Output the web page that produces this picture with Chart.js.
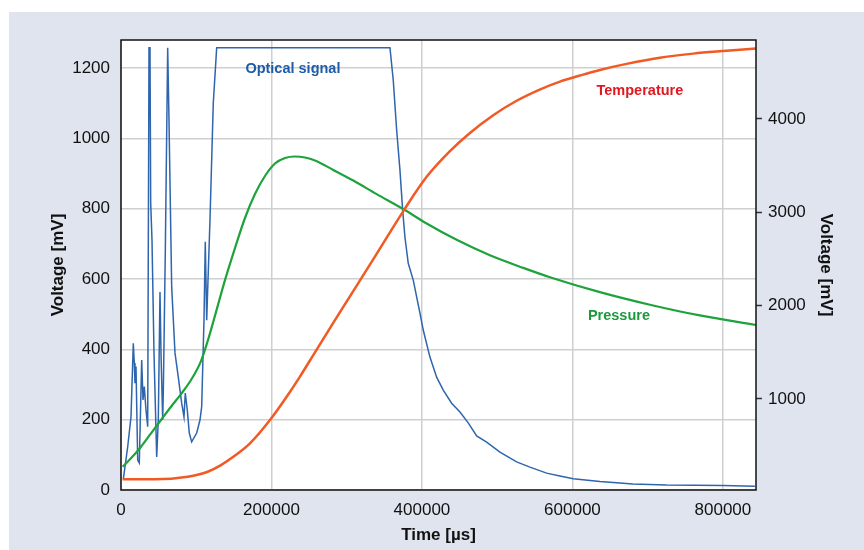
<!DOCTYPE html>
<html>
<head>
<meta charset="utf-8">
<script src="https://cdn.jsdelivr.net/npm/chart.js@4.4.1/dist/chart.umd.min.js"></script>
<style>
  html, body { margin: 0; padding: 0; background: #fff; }
  canvas { display: block; }
</style>
</head>
<body>
<canvas id="signalChart" width="864" height="550"></canvas>
<script>
// time axis in µs, voltages in mV
const xTicks = [0, 200000, 400000, 600000, 800000];
const leftTicks = [0, 200, 400, 600, 800, 1000, 1200];
const rightTicks = [1000, 2000, 3000, 4000];

const opticalTime = [
  3056, 8904, 13289, 16345, 17674, 18605, 19934, 22192, 24319, 27508, 29236, 30963, 33222, 35481,
  37209, 38538, 39468, 41196, 43854, 47442, 49568, 51827, 53156, 55415, 56213, 58871, 62060, 63787,
  67375, 71760, 76146, 80664, 83720, 85448, 88106, 90764, 93953, 100598, 104983, 107242, 110299,
  112026, 113887, 118272, 122658, 127176, 357474, 361860, 366378, 370763, 374351, 377408, 381793,
  388438, 397341, 401727, 410628, 419532, 428303, 439466, 450497, 461527, 472690, 485979, 503649,
  525844, 543521, 565712, 583393, 601067, 636543, 680397, 725182, 800000, 842523
];
const opticalValues = [
  30, 123, 208, 417, 361, 304, 351, 85, 77, 370, 256, 294, 227, 180,
  1258, 1258, 816, 711, 390, 94, 199, 563, 390, 199, 276, 674, 1258, 1052,
  577, 390, 321, 247, 208, 276, 227, 162, 137, 162, 199, 237, 483,
  706, 483, 768, 1100, 1258, 1258, 1166, 1024, 910, 796, 719, 645,
  597, 503, 455, 378, 321, 284, 247, 222, 191, 154, 136, 108,
  80, 65, 48, 40, 32, 24, 17, 14, 13, 11
];

const pressureTime = [
  2259, 13289, 26578, 39867, 53156, 66445, 79734, 93023, 106312, 115614, 126245, 138205, 151494,
  164783, 178072, 191361, 204650, 217939, 231228, 244517, 257806, 282125, 308703, 339798, 375147,
  406242, 446109, 490364, 534617, 570096, 636543, 702988, 769433, 843850
];
const pressureValues = [
  274, 364, 489, 632, 775, 917, 1053, 1203, 1406, 1631, 1931, 2274, 2617,
  2939, 3196, 3389, 3523, 3582, 3598, 3587, 3555, 3454, 3340, 3195, 3035,
  2880, 2705, 2540, 2405, 2305, 2145, 2010, 1895, 1793
];

const tempTime = [
  2259, 44252, 88636, 115214, 132890, 149238, 171428, 198006, 220198, 237873, 257807, 282125,
  304307, 339798, 377408, 406242, 437198, 463776, 494750, 525844, 556511, 583393, 609971, 636543,
  672023, 716283, 760535, 804913, 843852
];
const tempValues = [
  139, 139, 167, 221, 292, 381, 525, 775, 1024, 1240, 1500, 1815,
  2100, 2555, 3040, 3380, 3655, 3850, 4040, 4195, 4315, 4400, 4465, 4525,
  4590, 4655, 4700, 4730, 4755
];

const seriesLabels = [
  { text: 'Optical signal', x: 228500, y: 1197, axis: 'y', color: '#1f5ca8' },
  { text: 'Temperature', x: 689700, y: 4300, axis: 'y1', color: '#e3161f' },
  { text: 'Pressure', x: 661800, y: 1889, axis: 'y1', color: '#1a9a3a' }
];

const toPoints = (xs, ys) => xs.map((x, i) => ({ x: x, y: ys[i] }));
const fontFamily = '"Liberation Sans", Arial, sans-serif';

const backdrop = {
  id: 'backdrop',
  beforeDraw(chart) {
    const { ctx, chartArea: a } = chart;
    ctx.save();
    ctx.fillStyle = '#fff';
    ctx.fillRect(0, 0, chart.width, chart.height);
    ctx.fillStyle = '#e0e4ef';
    ctx.fillRect(9, 12, chart.width - 9, chart.height - 12);
    ctx.fillStyle = '#fff';
    ctx.fillRect(a.left, a.top, a.right - a.left, a.bottom - a.top);
    ctx.restore();
  },
  afterDraw(chart) {
    const { ctx, chartArea: a } = chart;
    ctx.save();
    ctx.strokeStyle = '#111';
    ctx.lineWidth = 1.5;
    ctx.strokeRect(a.left, a.top, a.right - a.left, a.bottom - a.top);
    // series names
    ctx.font = 'bold 14.5px ' + fontFamily;
    ctx.textAlign = 'center';
    ctx.textBaseline = 'middle';
    seriesLabels.forEach(l => {
      ctx.fillStyle = l.color;
      ctx.fillText(l.text, chart.scales.x.getPixelForValue(l.x), chart.scales[l.axis].getPixelForValue(l.y));
    });
    ctx.restore();
  }
};

const gridColor = '#cfcfcf';
const tickFont = { family: fontFamily, size: 17 };
const titleFont = { family: fontFamily, size: 17, weight: 'bold' };

new Chart(document.getElementById('signalChart'), {
  type: 'line',
  data: {
    datasets: [
      {
        label: 'Optical signal',
        data: toPoints(opticalTime, opticalValues),
        borderColor: '#2f65ad',
        borderWidth: 1.5,
        pointRadius: 0,
        yAxisID: 'y',
        order: 3
      },
      {
        label: 'Pressure',
        data: toPoints(pressureTime, pressureValues),
        borderColor: '#1ea33c',
        borderWidth: 2.2,
        pointRadius: 0,
        cubicInterpolationMode: 'monotone',
        yAxisID: 'y1',
        order: 2
      },
      {
        label: 'Temperature',
        data: toPoints(tempTime, tempValues),
        borderColor: '#f25a24',
        borderWidth: 2.5,
        pointRadius: 0,
        cubicInterpolationMode: 'monotone',
        yAxisID: 'y1',
        order: 1
      }
    ]
  },
  options: {
    responsive: false,
    animation: false,
    devicePixelRatio: 1,
    layout: { padding: { top: 40, left: 0, right: 0, bottom: 0 } },
    plugins: { legend: { display: false }, tooltip: { enabled: false } },
    scales: {
      x: {
        type: 'linear',
        min: 0,
        max: 844000,
        afterBuildTicks: s => { s.ticks = xTicks.map(v => ({ value: v })); },
        afterFit: s => { s.height = 60; },
        grid: { color: gridColor, lineWidth: 1.5, drawTicks: false },
        border: { display: false },
        ticks: { color: '#111', font: tickFont, padding: 10, maxRotation: 0, callback: v => String(v) },
        title: { display: true, text: 'Time [µs]', color: '#111', font: titleFont, padding: { bottom: 4 } }
      },
      y: {
        position: 'left',
        min: 0,
        max: 1280,
        afterBuildTicks: s => { s.ticks = leftTicks.map(v => ({ value: v })); },
        afterFit: s => { s.width = 121; },
        grid: { color: gridColor, lineWidth: 1.5, drawTicks: false },
        border: { display: false },
        ticks: { color: '#111', font: tickFont, padding: 11, callback: v => String(v) },
        title: { display: true, text: 'Voltage [mV]', color: '#111', font: titleFont, padding: { top: 48 } }
      },
      y1: {
        position: 'right',
        min: 25,
        max: 4846,
        afterBuildTicks: s => { s.ticks = rightTicks.map(v => ({ value: v })); },
        afterFit: s => { s.width = 108; },
        grid: { drawOnChartArea: false, drawTicks: true, tickLength: 6, tickColor: '#333', tickWidth: 1.5 },
        border: { display: false },
        ticks: { color: '#111', font: tickFont, padding: 6, callback: v => String(v) },
        title: { display: true, text: 'Voltage [mV]', color: '#111', font: titleFont, padding: { top: 28 } }
      }
    }
  },
  plugins: [backdrop]
});
</script>
</body>
</html>
